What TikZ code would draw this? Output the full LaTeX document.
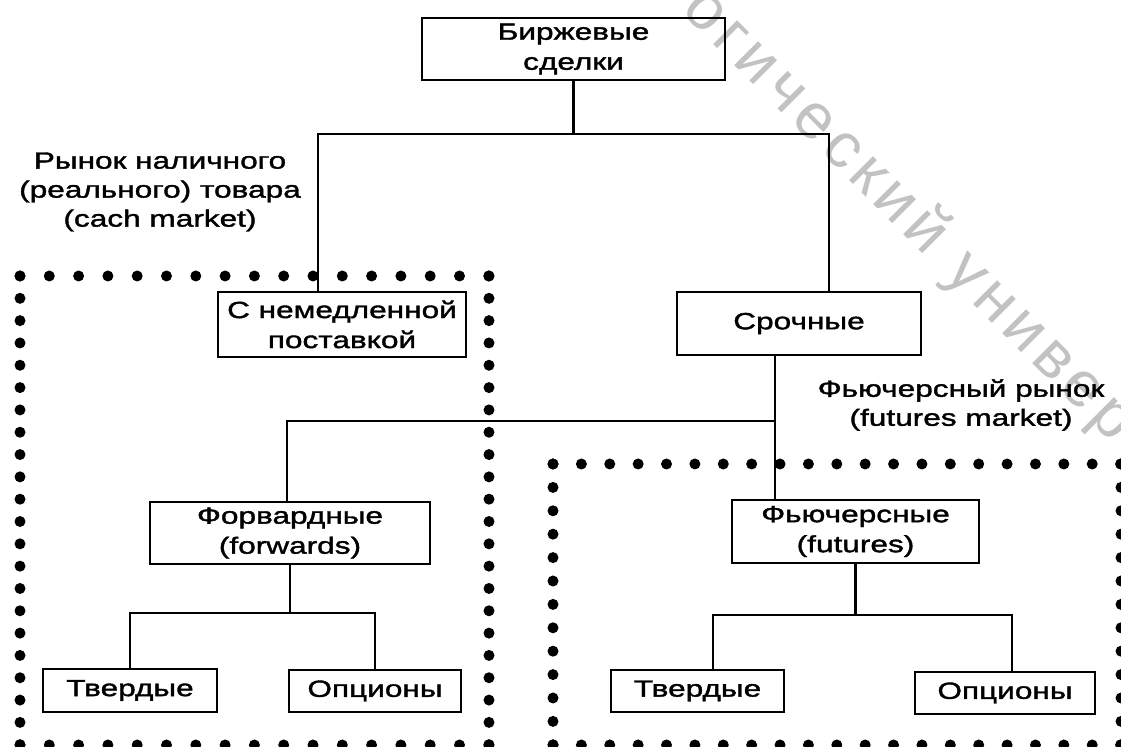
\documentclass[tikz,border=0pt]{standalone}
\usepackage{fontspec}
\setmainfont{Liberation Sans}[FakeStretch=1.35,FakeBold=1.6]
\newfontfamily\wmfont{Liberation Sans}[LetterSpace=10]
\tikzset{
    box/.style={draw,line width=1.4pt,align=center,inner sep=0pt,font=\fontsize{11.7}{15}\selectfont},
    edge/.style={line width=1.4pt},
    lbl/.style={align=center,font=\fontsize{11.7}{14.5}\selectfont},
    dotrow/.style={line width=5.5pt,line cap=round,dash pattern=on 0pt off #1}
}

\begin{document}
\begin{tikzpicture}[x=0.5pt,y=-0.5pt]
\useasboundingbox (0,0) rectangle (1121,747);
\clip (0,0) rectangle (1121,747);

% watermark
\node[anchor=base west,rotate=-45,text=black!24,font=\wmfont\fontsize{32}{38}\selectfont] (10) at (676,7) {огический университет};

% dotted frames
\draw[dotrow=14.65pt] (20,276) -- (489,276);
\draw[dotrow=14.65pt] (20,745) -- (489,745);
\draw[dotrow=11.16pt] (20,276) -- (20,745);
\draw[dotrow=11.16pt] (489,276) -- (489,745);
\draw[dotrow=14.19pt] (553,464) -- (1121,464);
\draw[dotrow=14.19pt] (553,745) -- (1121,745);
\draw[dotrow=11.7pt] (553,464) -- (553,745);
\draw[dotrow=11.7pt] (1121,464) -- (1121,745);

\node[box,minimum width=151.5pt,minimum height=31pt] (1) at (573.5,49) {Биржевые\\сделки};
\node[box,minimum width=124pt,minimum height=32.5pt] (2) at (342,324.5) {С немедленной\\поставкой};
\node[box,minimum width=122pt,minimum height=31.5pt] (3) at (799,323.5) {Срочные};
\node[box,minimum width=140pt,minimum height=31pt] (4) at (290,533) {Форвардные\\(forwards)};
\node[box,minimum width=123.5pt,minimum height=31.5pt] (5) at (855.5,531.5) {Фьючерсные\\(futures)};
\node[box,minimum width=87pt,minimum height=21.5pt] (6) at (130,690.5) {Твердые};
\node[box,minimum width=86pt,minimum height=21pt] (7) at (375,691) {Опционы};
\node[box,minimum width=86.5pt,minimum height=21pt] (8) at (697.5,691) {Твердые};
\node[box,minimum width=90pt,minimum height=21pt] (9) at (1005,693) {Опционы};

\node[lbl] (11) at (160,192) {Рынок наличного\\(реального) товара\\(cach market)};
\node[lbl] (12) at (961,405) {Фьючерсный рынок\\(futures market)};

\coordinate (a) at (318,134);
\coordinate (b) at (829,134);
\coordinate (c) at (287,421);
\coordinate (d) at (775,421);
\coordinate (e) at (290,613);
\coordinate (f) at (713,615);
\coordinate (g) at (1012,615);

\draw[edge] (1) -- (1 |- a);
\draw[edge] (2.north -| a) -- (a) -- (b) -- (3.north -| b);
\draw[edge] (3.south -| d) -- (5.north -| d);
\draw[edge] (d) -- (c) -- (4.north -| c);
\draw[edge] (4) -- (e);
\draw[edge] (6) |- (e) -| (7);
\draw[edge] (5) -- (5 |- f);
\draw[edge] (8.north -| f) -- (f) -- (g) -- (9.north -| g);

\end{tikzpicture}
\end{document}
